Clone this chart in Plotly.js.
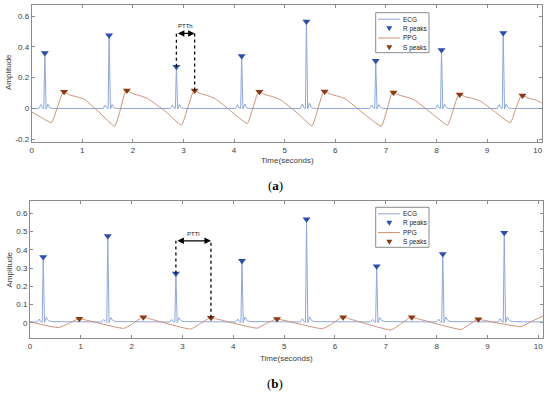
<!DOCTYPE html>
<html>
<head>
<meta charset="utf-8">
<script src="https://cdn.plot.ly/plotly-3.0.1.min.js"></script>
<style>html,body{margin:0;padding:0;background:#fff;}#chart{width:550px;height:394px;}</style>
</head>
<body>
<div id="chart"></div>
<script>
// ---------- (a) top panel data ----------
var ecgTopT = [0,
  0.14,0.18,0.21,0.24,0.26,0.285,0.32,0.36,0.42,
  1.41,1.45,1.48,1.51,1.53,1.555,1.59,1.63,1.69,
  2.74,2.78,2.81,2.84,2.86,2.885,2.92,2.96,3.02,
  4.03,4.07,4.10,4.13,4.15,4.175,4.21,4.25,4.31,
  5.31,5.35,5.38,5.41,5.43,5.455,5.49,5.53,5.59,
  6.68,6.72,6.75,6.78,6.80,6.825,6.86,6.90,6.96,
  7.98,8.02,8.05,8.08,8.10,8.125,8.16,8.20,8.26,
  9.20,9.24,9.27,9.30,9.32,9.345,9.38,9.42,9.48,
  10.08];
var ecgTopV = [0,
  0,0.025,0.004,0,0.36,-0.004,0.028,0.004,0,
  0,0.022,0.004,0,0.475,-0.004,0.026,0.004,0,
  0,0.022,0.004,0,0.27,-0.004,0.026,0.004,0,
  0,0.025,0.004,0,0.34,-0.004,0.028,0.004,0,
  0,0.03,0.004,0,0.565,-0.004,0.034,0.004,0,
  0,0.022,0.004,0,0.31,-0.004,0.026,0.004,0,
  0,0.024,0.004,0,0.38,-0.004,0.028,0.004,0,
  0,0.026,0.004,0,0.49,-0.004,0.03,0.004,0,
  0];
var rTopT = [0.26,1.53,2.86,4.15,5.43,6.80,8.10,9.32];
var rTopV = [0.36,0.475,0.27,0.34,0.565,0.31,0.38,0.49];

var ppgTopT = [0,0.20,0.39,0.50,0.60,0.64,0.75,0.90,1.05,1.35,1.64,1.75,1.84,1.88,1.99,2.14,2.29,2.65,2.96,
  3.07,3.18,3.22,3.33,3.48,3.63,3.95,4.26,4.37,4.46,4.50,4.61,4.76,4.91,5.25,5.54,5.65,5.75,5.79,
  5.90,6.05,6.20,6.55,6.91,7.02,7.11,7.15,7.26,7.41,7.56,7.90,8.22,8.33,8.42,8.46,8.57,8.72,8.87,
  9.15,9.46,9.57,9.66,9.70,9.81,9.96,10.08];
var ppgTopV = [-0.022,-0.06,-0.093,0.0,0.095,0.108,0.088,0.075,0.058,-0.03,-0.115,-0.01,0.10,0.117,0.097,0.083,0.065,-0.02,-0.108,
  -0.01,0.10,0.117,0.097,0.083,0.063,-0.02,-0.097,0.0,0.095,0.108,0.09,0.077,0.058,-0.03,-0.113,-0.01,0.097,0.11,
  0.093,0.08,0.062,-0.03,-0.115,-0.01,0.092,0.104,0.087,0.074,0.056,-0.03,-0.108,-0.01,0.08,0.091,0.076,0.065,0.048,
  -0.02,-0.093,0.0,0.073,0.084,0.068,0.055,0.035];
var sTopT = [0.64,1.88,3.22,4.50,5.79,7.15,8.46,9.70];
var sTopV = [0.108,0.117,0.117,0.108,0.11,0.104,0.091,0.084];

// ---------- (b) bottom panel data ----------
var ecgBotT = [0,
  0.14,0.18,0.21,0.24,0.26,0.285,0.32,0.36,0.42,
  1.41,1.45,1.48,1.51,1.53,1.555,1.59,1.63,1.69,
  2.75,2.79,2.82,2.85,2.87,2.895,2.93,2.97,3.03,
  4.05,4.09,4.12,4.15,4.17,4.195,4.23,4.27,4.33,
  5.32,5.36,5.39,5.42,5.44,5.465,5.50,5.54,5.60,
  6.70,6.74,6.77,6.80,6.82,6.845,6.88,6.92,6.98,
  8.00,8.04,8.07,8.10,8.12,8.145,8.18,8.22,8.28,
  9.21,9.25,9.28,9.31,9.33,9.355,9.39,9.43,9.49,
  10.1];
var ecgBotV = [0.004,
  0.004,0.02,0.006,0.003,0.36,0.0,0.03,0.012,0.006,
  0.004,0.018,0.006,0.003,0.475,0.0,0.028,0.012,0.006,
  0.004,0.018,0.006,0.003,0.27,0.0,0.028,0.012,0.006,
  0.004,0.02,0.006,0.003,0.34,0.0,0.03,0.012,0.006,
  0.004,0.022,0.006,0.003,0.567,0.0,0.032,0.012,0.006,
  0.004,0.018,0.006,0.003,0.31,0.0,0.028,0.012,0.006,
  0.004,0.02,0.006,0.003,0.377,0.0,0.03,0.012,0.006,
  0.004,0.022,0.006,0.003,0.493,0.0,0.03,0.012,0.006,
  0.004];
var rBotT = [0.26,1.53,2.87,4.17,5.44,6.82,8.12,9.33];
var rBotV = [0.36,0.475,0.27,0.34,0.567,0.31,0.377,0.493];

var ppgBotT = [0,0.56,0.75,0.92,0.97,1.05,1.84,2.00,2.18,2.23,2.32,3.16,3.32,3.51,3.56,3.65,4.47,4.62,4.81,4.86,4.95,
  5.75,5.92,6.11,6.16,6.25,7.10,7.27,7.46,7.51,7.60,8.48,8.63,8.78,8.82,8.90,9.66,9.85,10.1];
var ppgBotV = [0.005,-0.027,-0.005,0.018,0.022,0.018,-0.031,-0.01,0.026,0.03,0.024,-0.035,-0.01,0.023,0.027,0.022,-0.03,-0.008,0.017,0.02,0.016,
  -0.033,-0.01,0.026,0.03,0.024,-0.04,-0.012,0.026,0.03,0.024,-0.037,-0.012,0.016,0.019,0.015,-0.022,0.005,0.038];
var sBotT = [0.97,2.23,3.56,4.86,6.16,7.51,8.82];
var sBotV = [0.022,0.03,0.027,0.02,0.03,0.03,0.019];

// annotation levels
var pttTopArrowY = 0.487, pttTopLabelY = 0.536;
var pttBotArrowY = 0.449, pttBotLabelY = 0.487;

// ---------- styles ----------
var W = 550, H = 394;
function px(x){ return x / W; }
function py(y){ return 1 - y / H; }
var ecgColor = '#8ea7da', rColor = '#2c4ea9', ppgColor = '#cc9078', sColor = '#8a3a14';
var font = 'Liberation Sans, Arial, sans-serif';
var txtColor = '#3c3c3c';

var traces = [
  {x: ecgTopT, y: ecgTopV, type: 'scatter', mode: 'lines', line: {color: ecgColor, width: 1}, xaxis: 'x', yaxis: 'y', hoverinfo: 'skip'},
  {x: ppgTopT, y: ppgTopV, type: 'scatter', mode: 'lines', line: {color: ppgColor, width: 1, shape: 'spline', smoothing: 0.4}, xaxis: 'x', yaxis: 'y', hoverinfo: 'skip'},
  {x: rTopT, y: rTopV, type: 'scatter', mode: 'markers', marker: {symbol: 'triangle-down', size: 7, color: rColor}, xaxis: 'x', yaxis: 'y'},
  {x: sTopT, y: sTopV, type: 'scatter', mode: 'markers', marker: {symbol: 'triangle-down', size: 7, color: sColor}, xaxis: 'x', yaxis: 'y'},
  {x: ecgBotT, y: ecgBotV, type: 'scatter', mode: 'lines', line: {color: ecgColor, width: 1}, xaxis: 'x2', yaxis: 'y2', hoverinfo: 'skip'},
  {x: ppgBotT, y: ppgBotV, type: 'scatter', mode: 'lines', line: {color: ppgColor, width: 1, shape: 'spline', smoothing: 0.4}, xaxis: 'x2', yaxis: 'y2', hoverinfo: 'skip'},
  {x: rBotT, y: rBotV, type: 'scatter', mode: 'markers', marker: {symbol: 'triangle-down', size: 7, color: rColor}, xaxis: 'x2', yaxis: 'y2'},
  {x: sBotT, y: sBotV, type: 'scatter', mode: 'markers', marker: {symbol: 'triangle-down', size: 7, color: sColor}, xaxis: 'x2', yaxis: 'y2'}
];

var axisCommon = {
  showgrid: false, zeroline: false, showline: true, linecolor: '#8c8c8c', linewidth: 1,
  mirror: 'ticks', ticks: 'inside', ticklen: 3, tickcolor: '#8c8c8c', tickwidth: 1,
  tickfont: {family: font, size: 8, color: txtColor}, fixedrange: true
};
function ax(extra){ var o = JSON.parse(JSON.stringify(axisCommon)); for (var k in extra) o[k] = extra[k]; return o; }

var shapes = [], annotations = [];

// PTT markers (dotted verticals) and arrows
function ptt(xref, yref, t1, v1, t2, v2, arrowY, labelY, label) {
  shapes.push({type: 'line', xref: xref, yref: yref, x0: t1, x1: t1, y0: v1, y1: arrowY, line: {color: '#000', width: 1.3, dash: 'dot'}});
  shapes.push({type: 'line', xref: xref, yref: yref, x0: t2, x1: t2, y0: v2, y1: arrowY, line: {color: '#000', width: 1.3, dash: 'dot'}});
  annotations.push({xref: xref, yref: yref, x: t2, y: arrowY, ax: t1, ay: arrowY, axref: xref, ayref: yref,
    text: '', showarrow: true, arrowside: 'end+start', arrowhead: 2, arrowsize: 1, arrowwidth: 1.3, arrowcolor: '#000',
    standoff: 0, startstandoff: 0});
  annotations.push({xref: xref, yref: yref, x: (t1 + t2) / 2, y: labelY, text: label, showarrow: false,
    font: {family: font, size: 6, color: '#222'}});
}
ptt('x', 'y', rTopT[2], rTopV[2], sTopT[2], sTopV[2], pttTopArrowY, pttTopLabelY, 'PTTh');
ptt('x2', 'y2', rBotT[2], rBotV[2], sBotT[2], sBotV[2], pttBotArrowY, pttBotLabelY, 'PTTl');

// manual legends
var legendNames = ['ECG', 'R peaks', 'PPG', 'S peaks'];
function legend(top) {
  shapes.push({type: 'rect', xref: 'paper', yref: 'paper', x0: px(375.7), x1: px(429), y0: py(top + 40), y1: py(top),
    line: {color: '#8c8c8c', width: 1}, fillcolor: '#ffffff', layer: 'above'});
  var rows = [top + 6.5, top + 16, top + 25.3, top + 35];
  shapes.push({type: 'line', xref: 'paper', yref: 'paper', x0: px(378), x1: px(400), y0: py(rows[0]), y1: py(rows[0]), line: {color: ecgColor, width: 1}, layer: 'above'});
  shapes.push({type: 'line', xref: 'paper', yref: 'paper', x0: px(378), x1: px(400), y0: py(rows[2]), y1: py(rows[2]), line: {color: ppgColor, width: 1}, layer: 'above'});
  [[rows[1], rColor], [rows[3], sColor]].forEach(function (r) {
    var cx = 389.3, cy = r[0];
    var p = 'M' + px(cx - 3) + ',' + py(cy - 2.5) + ' L' + px(cx + 3) + ',' + py(cy - 2.5) + ' L' + px(cx) + ',' + py(cy + 2.5) + ' Z';
    shapes.push({type: 'path', xref: 'paper', yref: 'paper', path: p, fillcolor: r[1], line: {width: 0}, layer: 'above'});
  });
  legendNames.forEach(function (n, i) {
    annotations.push({xref: 'paper', yref: 'paper', x: px(401.5), y: py(rows[i]), xanchor: 'left', yanchor: 'middle',
      text: n, showarrow: false, borderpad: 0, font: {family: font, size: 6.5, color: '#222'}});
  });
}
legend(12.7);
legend(207.3);

// titles as text
function txt(x, y, s, size, extra) {
  var a = {xref: 'paper', yref: 'paper', x: px(x), y: py(y), xanchor: 'center', yanchor: 'middle', text: s, showarrow: false,
    font: {family: font, size: size, color: txtColor}};
  for (var k in extra) a[k] = extra[k];
  annotations.push(a);
}
txt(8.5, 72.5, 'Amplitude', 8, {textangle: -90});
txt(8.5, 270, 'Amplitude', 8, {textangle: -90});
txt(287, 160.5, 'Time(seconds)', 8);
txt(286.7, 358.3, 'Time(seconds)', 8);
txt(275, 185, '(<b>a</b>)', 13, {font: {family: 'Liberation Serif, Times New Roman, serif', size: 13, color: '#000'}});
txt(275, 383, '(<b>b</b>)', 13, {font: {family: 'Liberation Serif, Times New Roman, serif', size: 13, color: '#000'}});

var layout = {
  width: W, height: H, margin: {l: 0, r: 0, t: 0, b: 0, pad: 0},
  paper_bgcolor: '#ffffff', plot_bgcolor: '#ffffff', showlegend: false,
  xaxis: ax({domain: [px(31.7), px(541.7)], range: [0, 10.08], anchor: 'y', tickvals: [0,1,2,3,4,5,6,7,8,9,10]}),
  yaxis: ax({domain: [py(142), py(5)], range: [-0.2175, 0.6714], anchor: 'x', tickvals: [-0.2,0,0.2,0.4,0.6], ticktext: ['-0.2','0','0.2','0.4','0.6']}),
  xaxis2: ax({domain: [px(30), px(543.3)], range: [0, 10.098], anchor: 'y2', tickvals: [0,1,2,3,4,5,6,7,8,9,10]}),
  yaxis2: ax({domain: [py(338.3), py(201)], range: [-0.0856, 0.6675], anchor: 'x2', tickvals: [0,0.1,0.2,0.3,0.4,0.5,0.6], ticktext: ['0','0.1','0.2','0.3','0.4','0.5','0.6']}),
  shapes: shapes, annotations: annotations
};

Plotly.newPlot('chart', traces, layout, {staticPlot: true, displayModeBar: false});
</script>
</body>
</html>
